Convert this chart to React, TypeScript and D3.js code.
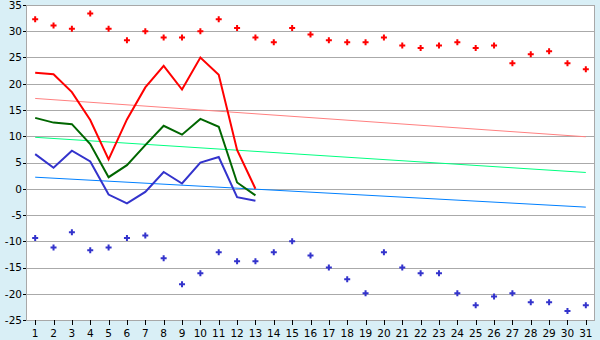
import React from "react";
import * as d3 from "d3";

const days: number[] = d3.range(1, 32);
const yTicks: number[] = [-25, -20, -15, -10, -5, 0, 5, 10, 15, 20, 25, 30, 35];

const maxMarkers: number[] = [32.3, 31.1, 30.5, 33.4, 30.5, 28.3, 30.0, 28.8, 28.8, 30.0, 32.3, 30.6, 28.8, 27.9, 30.6, 29.4, 28.3, 27.9, 27.9, 28.8, 27.3, 26.8, 27.3, 27.9, 26.8, 27.3, 23.9, 25.6, 26.2, 23.9, 22.75];
const minMarkers: number[] = [-9.4, -11.2, -8.3, -11.7, -11.2, -9.4, -8.9, -13.25, -18.2, -16.1, -12.1, -13.8, -13.8, -12.1, -10.0, -12.7, -15.0, -17.25, -19.9, -12.1, -15.0, -16.1, -16.1, -19.9, -22.2, -20.5, -19.9, -21.6, -21.6, -23.3, -22.2];

const maxLine: number[] = [22.1, 21.8, 18.4, 13.1, 5.6, 13.2, 19.3, 23.4, 18.9, 25.0, 21.7, 7.4, 0.0];
const meanLine: number[] = [13.5, 12.6, 12.3, 8.5, 2.2, 4.5, 8.3, 12.0, 10.3, 13.3, 11.8, 1.2, -1.25];
const minLine: number[] = [6.6, 4.0, 7.25, 5.2, -1.1, -2.8, -0.6, 3.2, 1.0, 5.0, 6.05, -1.6, -2.3];

// trend lines: [value at day 1, value at day 31]
const maxTrend: number[] = [17.2, 9.9];
const meanTrend: number[] = [9.8, 3.1];
const minTrend: number[] = [2.2, -3.5];

const W = 600;
const H = 340;
const left = 26;
const right = 595;
const top = 5;
const bottom = 320;

export default function App() {
  const x = d3.scaleBand<number>().domain(days).range([left, right]).padding(0);
  const cx = (d: number) => (x(d) as number) + x.bandwidth() / 2;
  const y = d3.scaleLinear().domain([-25, 35]).range([bottom, top]);

  const line = d3
    .line<number>()
    .x((_, i) => cx(days[i]))
    .y((v) => y(v));

  const trend = (t: number[]) =>
    d3
      .line<number>()
      .x((_, i) => cx(i === 0 ? days[0] : days[days.length - 1]))
      .y((v) => y(v))(t) as string;

  const cross = d3.symbol().type(d3.symbolCross).size(20)() as string;

  const font = "'DejaVu Sans', Verdana, sans-serif";

  return (
    <div style={{ position: "fixed", left: 0, top: 0 }}>
      <svg width={W} height={H} style={{ display: "block" }}>
        <rect x={0} y={0} width={W} height={H} fill="#d9eff6" />
        <rect x={left} y={top} width={right - left} height={bottom - top} fill="#ffffff" />
        {yTicks.map((t) => (
          <line
            key={"g" + t}
            x1={left}
            x2={right}
            y1={Math.round(y(t)) + 0.5}
            y2={Math.round(y(t)) + 0.5}
            stroke="#aaaaaa"
            strokeWidth={1}
            shapeRendering="crispEdges"
          />
        ))}
        <rect
          x={left + 0.5}
          y={top + 0.5}
          width={right - left - 1}
          height={bottom - top}
          fill="none"
          stroke="#a8a8a8"
          strokeWidth={1}
          shapeRendering="crispEdges"
        />
        {/* y ticks */}
        {yTicks.map((t) => (
          <g key={"yt" + t}>
            <line
              x1={left - 3}
              x2={left}
              y1={Math.round(y(t)) + 0.5}
              y2={Math.round(y(t)) + 0.5}
              stroke="#000"
              strokeWidth={1}
              shapeRendering="crispEdges"
            />
            <text
              x={left - 4}
              y={y(t)}
              dy="0.36em"
              textAnchor="end"
              fontFamily={font}
              fontSize={10.5}
              fill="#000"
            >
              {String(t)}
            </text>
          </g>
        ))}
        {/* x ticks */}
        {days.map((d) => (
          <g key={"xt" + d}>
            <line
              x1={Math.round(cx(d)) + 0.5}
              x2={Math.round(cx(d)) + 0.5}
              y1={bottom}
              y2={bottom + 5}
              stroke="#000"
              strokeWidth={1}
              shapeRendering="crispEdges"
            />
            <text
              x={cx(d)}
              y={337}
              textAnchor="middle"
              fontFamily={font}
              fontSize={10.5}
              fill="#000"
            >
              {String(d)}
            </text>
          </g>
        ))}
        {/* trend lines */}
        <path d={trend(maxTrend)} fill="none" stroke="#ff8080" strokeWidth={1} />
        <path d={trend(meanTrend)} fill="none" stroke="#00ff80" strokeWidth={1} />
        <path d={trend(minTrend)} fill="none" stroke="#0080ff" strokeWidth={1} />
        {/* data lines */}
        <path d={line(maxLine) as string} fill="none" stroke="#ff0000" strokeWidth={2} />
        <path d={line(meanLine) as string} fill="none" stroke="#006600" strokeWidth={2} />
        <path d={line(minLine) as string} fill="none" stroke="#3333cc" strokeWidth={2} />
        {/* markers */}
        {maxMarkers.map((v, i) => (
          <path key={"mx" + i} d={cross} transform={`translate(${cx(days[i])},${y(v)})`} fill="#ff0000" />
        ))}
        {minMarkers.map((v, i) => (
          <path key={"mn" + i} d={cross} transform={`translate(${cx(days[i])},${y(v)})`} fill="#3333cc" />
        ))}
      </svg>
    </div>
  );
}
